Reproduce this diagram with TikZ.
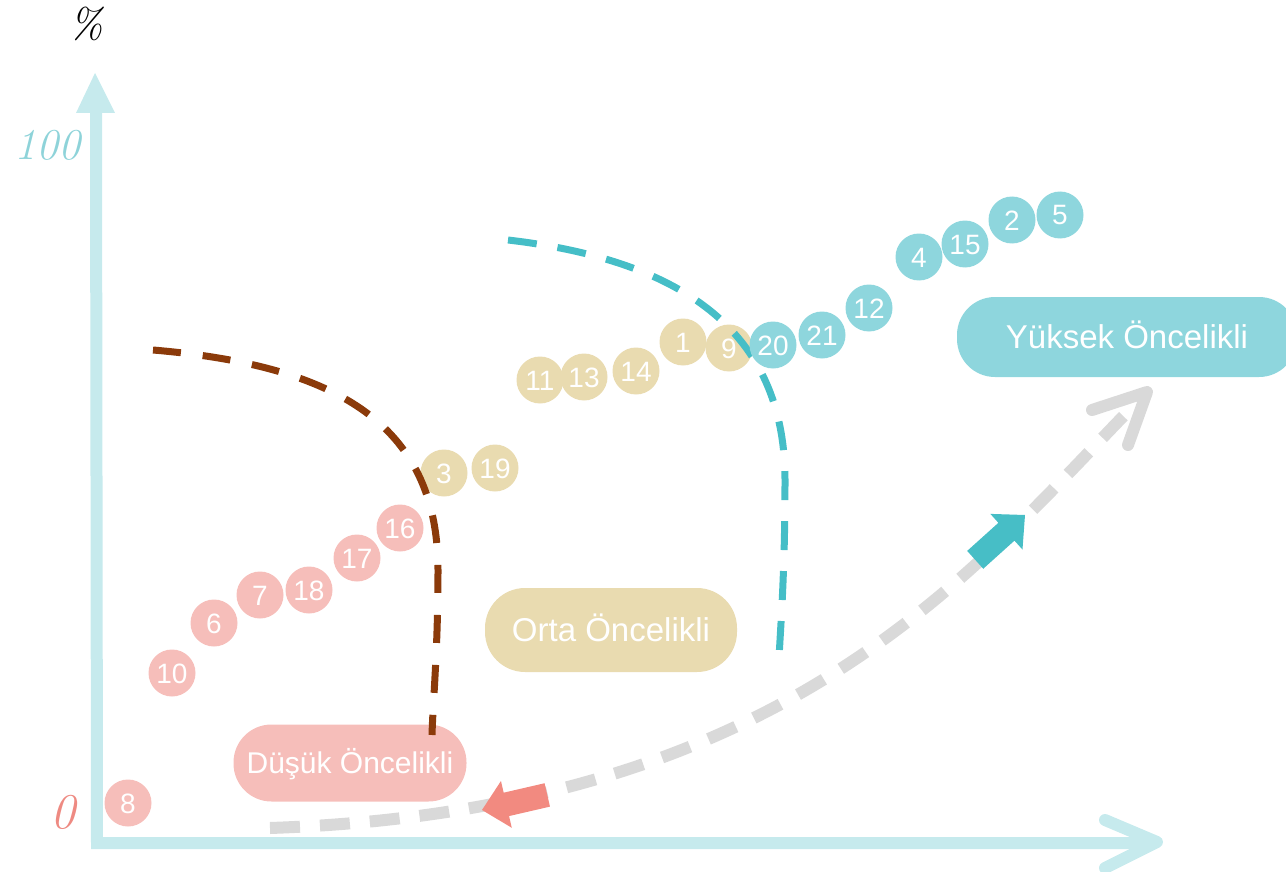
\documentclass[tikz,border=0pt]{standalone}
\usepackage{fontspec}
\setsansfont{Liberation Sans}
\usetikzlibrary{arrows.meta}
\definecolor{axisc}{HTML}{C6EAED}
\definecolor{pinkc}{HTML}{F6BEBA}
\definecolor{tanc}{HTML}{E9DBB0}
\definecolor{tealc}{HTML}{8ED6DD}
\definecolor{tealdash}{HTML}{45BEC7}
\definecolor{browndash}{HTML}{8B3A0A}
\definecolor{grayc}{HTML}{D9D9D9}
\definecolor{redarrow}{HTML}{F28A80}
\definecolor{tealarrow}{HTML}{47BEC6}
\definecolor{zeroc}{HTML}{EE8A82}
\definecolor{hundc}{HTML}{8ED3D9}
\begin{document}
\begin{tikzpicture}[x=1pt,y=-1pt,
  dot/.style={circle, minimum size=47pt, inner sep=0pt, text=white,
    font=\sffamily\fontsize{28}{28}\selectfont, text height=20pt, text depth=0pt},
  pdot/.style={dot, fill=pinkc},
  tdot/.style={dot, fill=tanc},
  cdot/.style={dot, fill=tealc},
  pill/.style={rectangle, rounded corners=38pt, inner sep=0pt, text=white,
    font=\sffamily\fontsize{33}{33}\selectfont, text height=23.6pt, text depth=0pt},
  axisline/.style={draw=axisc, line width=12pt},
  grayline/.style={draw=grayc, line width=12pt},
  bdash/.style={draw=browndash, line width=7pt, dash pattern=on 28pt off 22pt},
  tdash/.style={draw=tealdash, line width=7pt, dash pattern=on 29pt off 21pt},
  handlabel/.style={inner sep=0pt, font=\rmfamily\itshape\fontsize{44}{44}\selectfont}
]
\useasboundingbox (0,0) rectangle (1286,872);

% axes
\coordinate (ytip) at (95,73);
\coordinate (ytop) at (96,110);
\coordinate (origin) at (97,843);
\coordinate (xend) at (1150,843);
\coordinate (xtip) at (1157,842);
\draw[axisline, line join=miter] (ytop) -- (origin) -- (xend);
\fill[axisc] (ytip) -- ++(20,40) -- ++(-39,0) -- cycle;
\draw[axisline, line cap=round, line join=round] (xtip) ++(-52,-22) -- (xtip) -- ++(-52,26);

% axis labels
\node[handlabel, text=black, font=\rmfamily\itshape\fontsize{42}{42}\selectfont] (pct) at (86,24) {\%};
\node[handlabel, text=hundc] (hund) at (47,145) {100};
\node[handlabel, text=zeroc, font=\rmfamily\itshape\fontsize{50}{50}\selectfont] (zero) at (63,812) {0};

% gray trend curve
\coordinate (g0) at (270,828);
\coordinate (gtip) at (1147,392);
\draw[grayline, dash pattern=on 30pt off 20pt] (g0) .. controls (800,810) and (980,560) .. (gtip);
\draw[grayline, line cap=round, line join=round] (gtip) ++(-55,18) -- (gtip) -- ++(-19,53);

% block arrows on the curve
\coordinate (redtip) at (482,810);
\coordinate (tealtip) at (1025,515);
\begin{scope}[shift={(redtip)}, rotate=193]
  \fill[redarrow] (0,0) -- (-25,-24) -- (-25,-12) -- (-67,-12) -- (-67,12) -- (-25,12) -- (-25,24) -- cycle;
\end{scope}
\begin{scope}[shift={(tealtip)}, rotate=42]
  \fill[tealarrow] (0,0) -- (-25,-24) -- (-25,-12) -- (-67,-12) -- (-67,12) -- (-25,12) -- (-25,24) -- cycle;
\end{scope}

% priority labels
\node[pill, fill=tealc, minimum width=340pt, minimum height=80pt] (high) at (1127,337) {Yüksek Öncelikli};
\node[pill, fill=tanc, minimum width=252pt, minimum height=84pt, rounded corners=40pt] (mid) at (611,630) {Orta Öncelikli};
\node[pill, fill=pinkc, minimum width=233pt, minimum height=77pt, font=\sffamily\fontsize{30}{30}\selectfont, text height=21.5pt] (low) at (350,763) {Düşük Öncelikli};

% pink circles
\node[pdot] (c8) at (128,803) {8};
\node[pdot] (c10) at (172,673) {10};
\node[pdot] (c6) at (214,623) {6};
\node[pdot] (c7) at (260,595) {7};
\node[pdot] (c18) at (309,590) {18};
\node[pdot] (c17) at (357,558) {17};
\node[pdot] (c16) at (400,528) {16};

% tan circles
\node[tdot] (c3) at (444,473) {3};
\node[tdot] (c19) at (495,468) {19};
\node[tdot] (c11) at (540,380) {11};
\node[tdot] (c13) at (584,377) {13};
\node[tdot] (c14) at (636,371) {14};
\node[tdot] (c1) at (683,342) {1};
\node[tdot] (c9) at (729,348) {9};

% dashed boundaries
\coordinate (b0) at (153,350);
\coordinate (b1) at (438,570);
\coordinate (b2) at (432,735);
\draw[bdash] (b0) .. controls (330,365) and (438,420) .. (b1) .. controls (438,650) and (433,700) .. (b2);
\coordinate (t0) at (508,240);
\coordinate (t1) at (785,480);
\coordinate (t2) at (779,658);
\draw[tdash] (t0) .. controls (680,260) and (785,330) .. (t1) .. controls (785,570) and (781,620) .. (t2);

% teal circles
\node[cdot] (c20) at (773,345) {20};
\node[cdot] (c21) at (822,335) {21};
\node[cdot] (c12) at (869,308) {12};
\node[cdot] (c4) at (919,257) {4};
\node[cdot] (c15) at (965,244) {15};
\node[cdot] (c2) at (1012,220) {2};
\node[cdot] (c5) at (1060,215) {5};
\end{tikzpicture}
\end{document}
